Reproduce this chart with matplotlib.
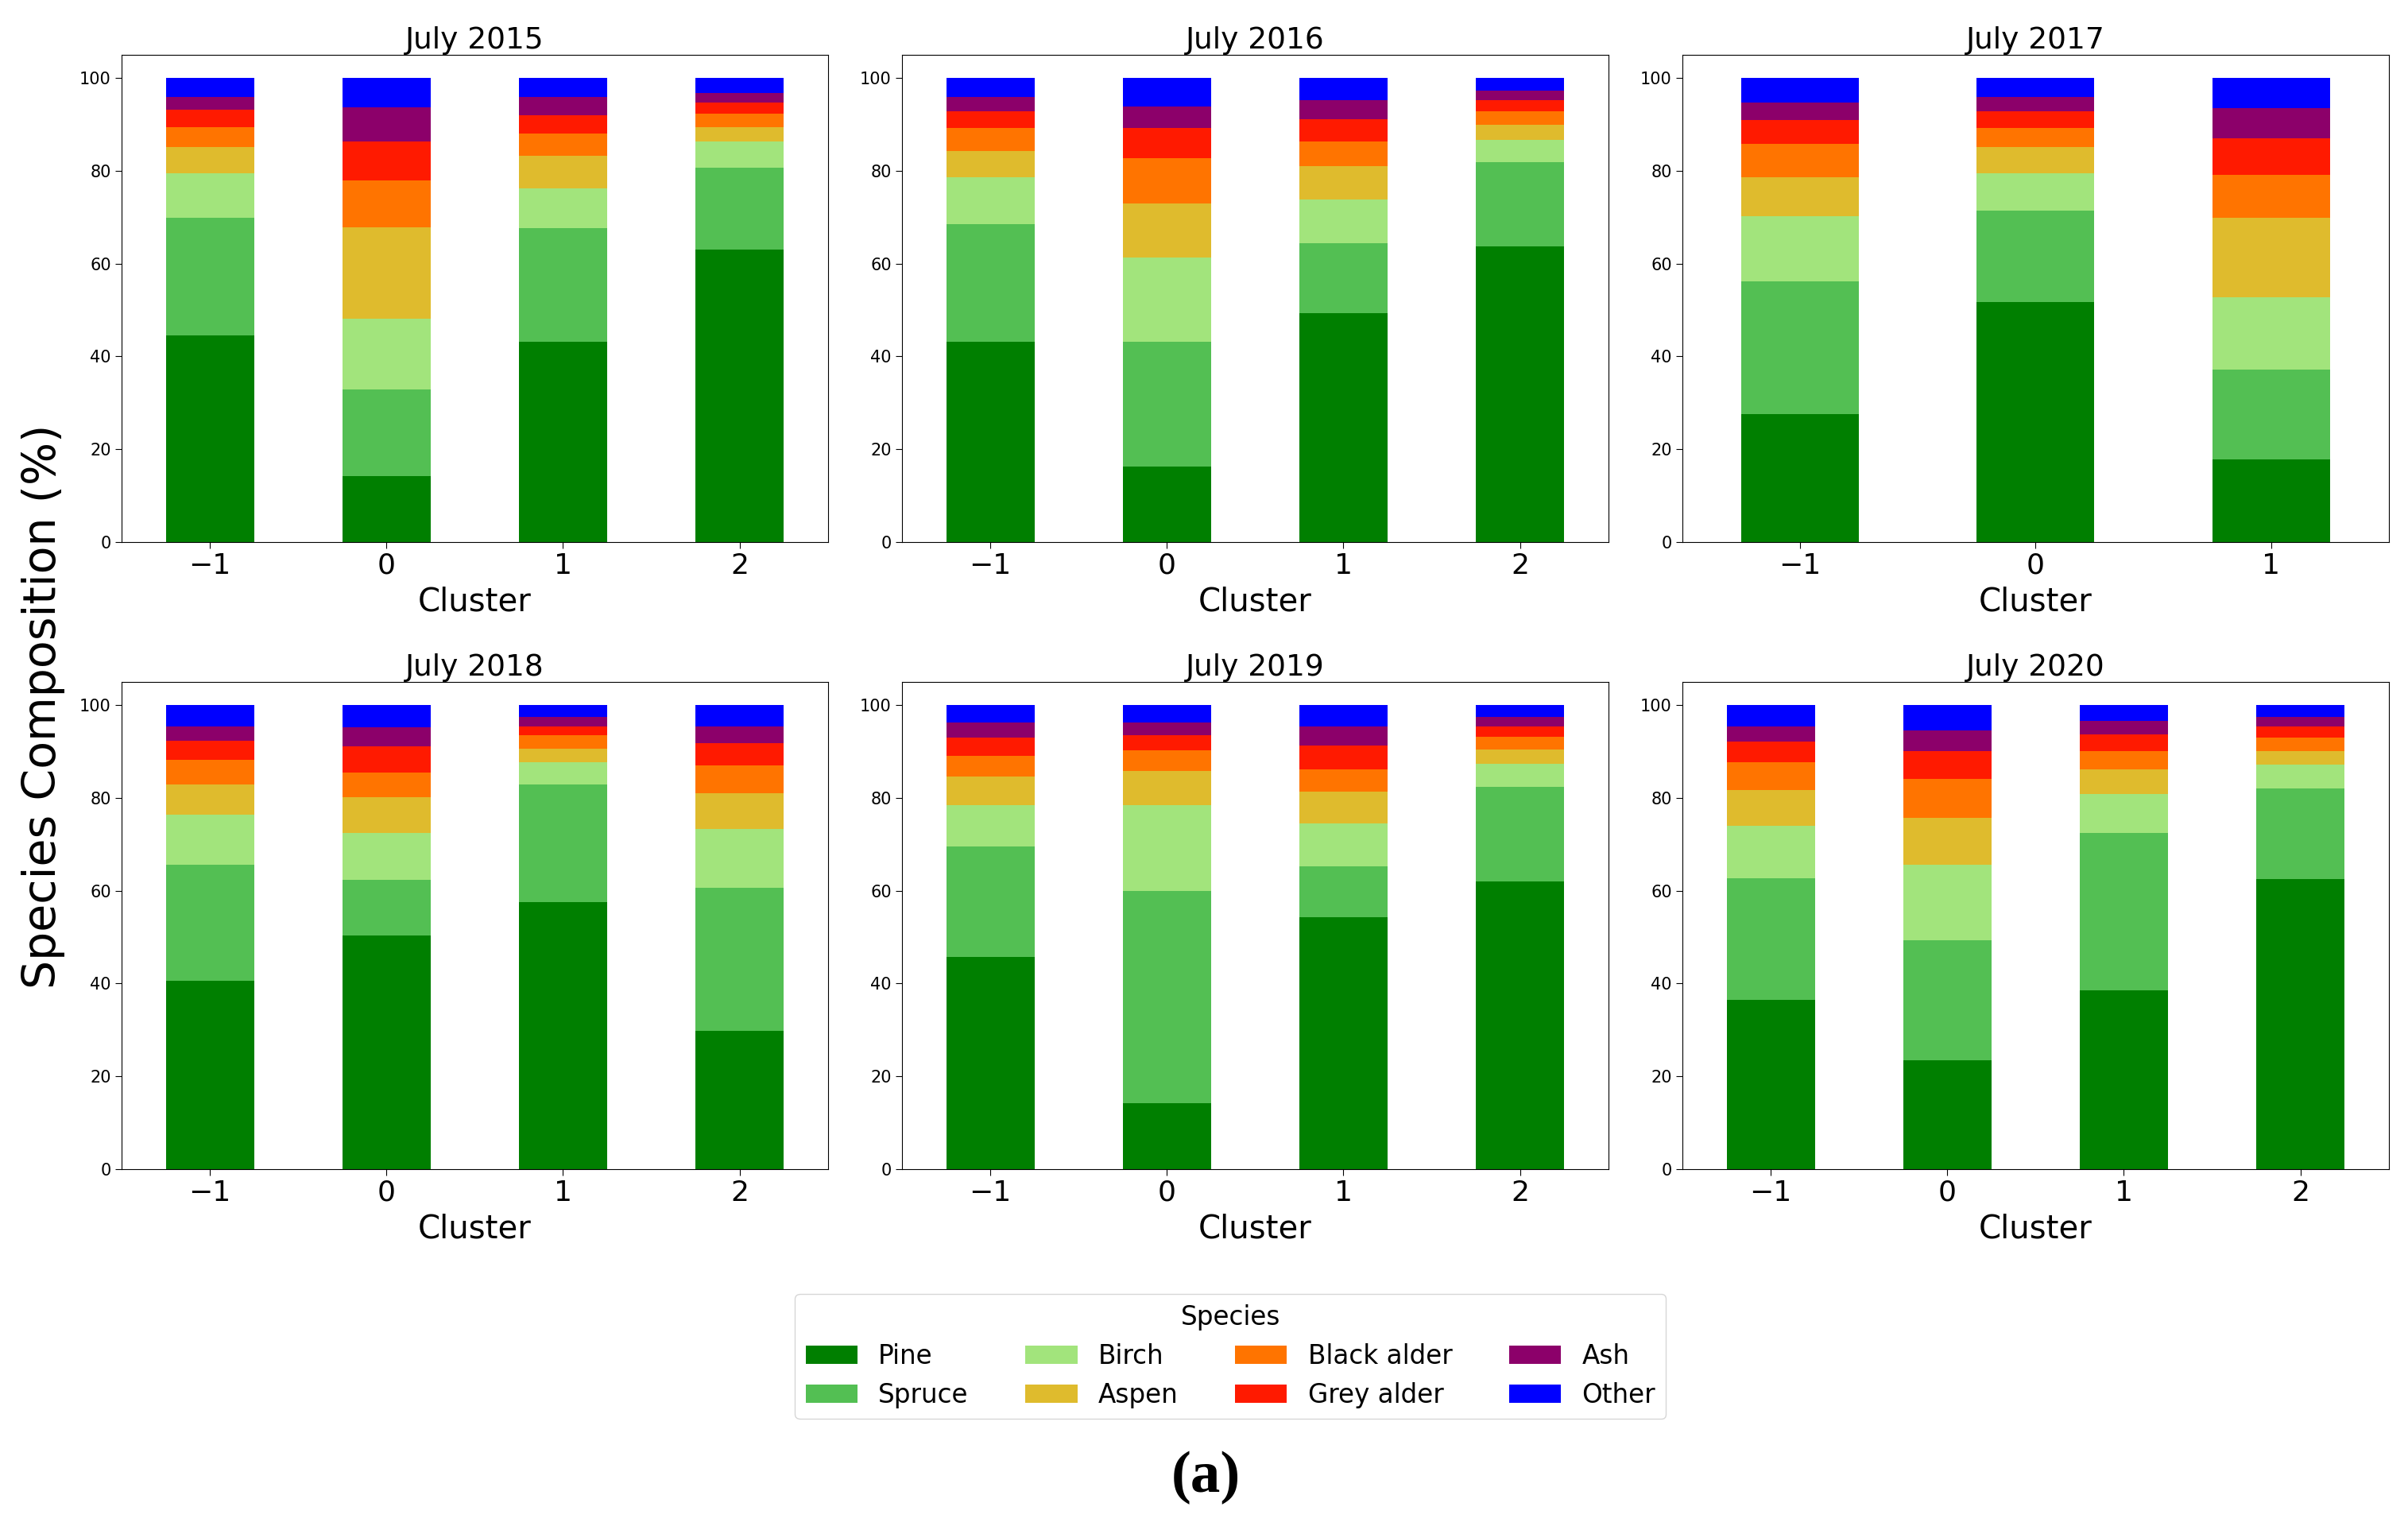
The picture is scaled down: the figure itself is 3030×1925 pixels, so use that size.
import numpy as np
import matplotlib
matplotlib.use('Agg')
import matplotlib.pyplot as plt

species = ['Pine', 'Spruce', 'Birch', 'Aspen', 'Black alder', 'Grey alder', 'Ash', 'Other']
colors = ['#007f00', '#53bf53', '#a2e47c', '#dfbb2d', '#ff7400', '#ff1a00', '#8c006a', '#0000ff']

years = ['July 2015', 'July 2016', 'July 2017', 'July 2018', 'July 2019', 'July 2020']

# one row per cluster, values in species order (%)
clusters_2015 = [-1, 0, 1, 2]
comp_2015 = [[44.5, 25.4, 9.6, 5.7, 4.3, 3.7, 2.8, 4.0],
             [14.2, 18.6, 15.3, 19.7, 10.1, 8.5, 7.3, 6.3],
             [43.2, 24.4, 8.7, 6.9, 4.8, 4.0, 4.0, 4.0],
             [63.0, 17.7, 5.7, 3.1, 2.9, 2.4, 2.1, 3.1]]

clusters_2016 = [-1, 0, 1, 2]
comp_2016 = [[43.2, 25.4, 10.1, 5.6, 4.9, 3.6, 3.2, 4.0],
             [16.3, 26.8, 18.2, 11.7, 9.7, 6.5, 4.7, 6.1],
             [49.3, 15.2, 9.3, 7.3, 5.2, 4.9, 4.0, 4.8],
             [63.8, 18.1, 4.8, 3.2, 2.9, 2.4, 2.1, 2.7]]

clusters_2017 = [-1, 0, 1]
comp_2017 = [[27.5, 28.7, 14.1, 8.4, 7.2, 5.1, 3.8, 5.2],
             [51.7, 19.7, 8.1, 5.7, 4.0, 3.6, 3.2, 4.0],
             [17.8, 19.3, 15.7, 17.1, 9.2, 8.0, 6.5, 6.4]]

clusters_2018 = [-1, 0, 1, 2]
comp_2018 = [[40.5, 25.1, 10.8, 6.6, 5.2, 4.1, 3.2, 4.5],
             [50.3, 12.0, 10.1, 7.8, 5.3, 5.6, 4.1, 4.8],
             [57.6, 25.4, 4.8, 2.9, 2.8, 2.0, 2.0, 2.5],
             [29.7, 31.0, 12.6, 7.8, 5.9, 4.9, 3.6, 4.5]]

clusters_2019 = [-1, 0, 1, 2]
comp_2019 = [[45.8, 23.8, 8.9, 6.1, 4.5, 4.0, 3.2, 3.7],
             [14.2, 45.8, 18.5, 7.3, 4.5, 3.2, 2.8, 3.7],
             [54.3, 10.9, 9.3, 6.9, 4.8, 5.2, 4.1, 4.5],
             [62.0, 20.4, 4.9, 3.2, 2.7, 2.2, 2.1, 2.5]]

clusters_2020 = [-1, 0, 1, 2]
comp_2020 = [[36.5, 26.2, 11.3, 7.7, 6.0, 4.4, 3.3, 4.6],
             [23.5, 25.9, 16.2, 10.1, 8.5, 6.0, 4.4, 5.4],
             [38.5, 33.9, 8.5, 5.2, 4.1, 3.5, 2.9, 3.4],
             [62.5, 19.6, 5.1, 3.0, 2.9, 2.3, 2.1, 2.5]]

all_clusters = [clusters_2015, clusters_2016, clusters_2017, clusters_2018, clusters_2019, clusters_2020]
all_comp = [comp_2015, comp_2016, comp_2017, comp_2018, comp_2019, comp_2020]

fig, axes = plt.subplots(2, 3, figsize=(30.3, 19.25), dpi=100)
fig.subplots_adjust(left=0.0505, right=0.992, top=0.964, bottom=0.236, wspace=0.105, hspace=0.288)

for ax, title, clusters, comp in zip(axes.flat, years, all_clusters, all_comp):
    values = np.array(comp).T
    bottom = np.zeros(len(clusters))
    for i, name in enumerate(species):
        ax.bar(clusters, values[i], width=0.5, bottom=bottom, color=colors[i], label=name)
        bottom += values[i]
    ax.set_xticks(clusters)
    ax.set_xlim(min(clusters) - 0.5, max(clusters) + 0.5)
    ax.set_ylim(0, 105)
    ax.set_yticks([0, 20, 40, 60, 80, 100])
    ax.tick_params(axis='y', labelsize=15, length=6)
    ax.tick_params(axis='x', labelsize=26, length=6)
    ax.set_title(title, fontsize=27, pad=6)
    ax.set_xlabel('Cluster', fontsize=29, labelpad=6)

fig.text(0.018, 0.538, 'Species Composition (%)', rotation=90, fontsize=41, ha='center', va='center')

handles, labels = axes[0, 0].get_legend_handles_labels()
fig.legend(handles, labels, title='Species', ncol=4, loc='upper center',
           bbox_to_anchor=(0.511, 0.163), fontsize=23.5, title_fontsize=23.5,
           handlelength=2.0, columnspacing=2.2)

fig.text(0.5007, 0.034, '(a)', fontsize=54, fontweight='bold', family='Liberation Serif',
         ha='center', va='center')

fig.savefig('out.png', dpi=100)
